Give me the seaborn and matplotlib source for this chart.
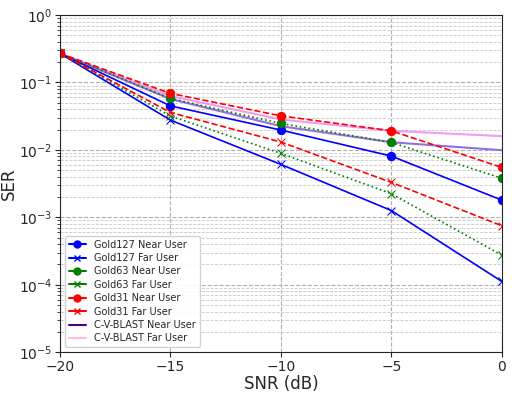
import seaborn as sns
import matplotlib.pyplot as plt
from matplotlib.lines import Line2D

sns.set_style("ticks")

snr = [-20, -15, -10, -5, 0]

gold127_near = [0.27, 0.045, 0.0197, 0.0081, 0.0018]
gold127_far = [0.27, 0.0277, 0.0061, 0.00126, 0.000112]
gold63_near = [0.27, 0.058, 0.0247, 0.0129, 0.0038]
gold63_far = [0.27, 0.0318, 0.0089, 0.00224, 0.000275]
gold31_near = [0.27, 0.069, 0.032, 0.0192, 0.0055]
gold31_far = [0.27, 0.036, 0.0131, 0.0033, 0.00075]
cvblast_near = [0.27, 0.057, 0.0225, 0.013, 0.0099]
cvblast_far = [0.27, 0.063, 0.0283, 0.0192, 0.016]

fig, ax = plt.subplots(figsize=(5.12, 3.97), dpi=100)

# C-V-BLAST curves drawn first, underneath
sns.lineplot(x=snr, y=cvblast_far, ax=ax, color='violet', linewidth=1.5, alpha=0.8)
sns.lineplot(x=snr, y=cvblast_near, ax=ax, color='mediumpurple', linewidth=1.5)

series = [
    (gold127_near, 'blue', '-', 'o'),
    (gold127_far, 'blue', '-', 'x'),
    (gold63_near, 'green', ':', 'o'),
    (gold63_far, 'green', ':', 'x'),
    (gold31_near, 'red', '--', 'o'),
    (gold31_far, 'red', '--', 'x'),
]
for vals, c, ls, m in series:
    sns.lineplot(x=snr, y=vals, ax=ax, color=c, linestyle=ls, marker=m,
                 markersize=6, markeredgecolor=c, linewidth=1.2)

ax.set_yscale('log')
ax.set_ylim(1e-5, 1)
ax.set_xlim(-20, 0)
ax.set_xticks([-20, -15, -10, -5, 0])
ax.grid(True, which='major', linestyle='--', color='#b0b0b0', linewidth=0.8)
ax.grid(True, which='minor', linestyle='--', color='#c8c8c8', linewidth=0.6)
ax.set_xlabel('SNR (dB)', fontsize=12, labelpad=1)
ax.set_ylabel('SER', fontsize=12, labelpad=1)
ax.tick_params(labelsize=10, pad=2)

labels = ['Gold127 Near User', 'Gold127 Far User', 'Gold63 Near User', 'Gold63 Far User',
          'Gold31 Near User', 'Gold31 Far User', 'C-V-BLAST Near User', 'C-V-BLAST Far User']
handles = [
    Line2D([], [], color='blue', marker='o', markersize=5),
    Line2D([], [], color='blue', marker='x', markersize=5),
    Line2D([], [], color='green', marker='o', markersize=5),
    Line2D([], [], color='green', marker='x', markersize=5),
    Line2D([], [], color='red', marker='o', markersize=5),
    Line2D([], [], color='red', marker='x', markersize=5),
    Line2D([], [], color='indigo'),
    Line2D([], [], color='pink'),
]
ax.legend(handles, labels, loc='lower left', fontsize=7, handlelength=1.8,
          labelspacing=0.35, framealpha=0.9)

plt.subplots_adjust(left=0.117, right=0.98, top=0.962, bottom=0.113)
plt.savefig('out.png', dpi=100)
